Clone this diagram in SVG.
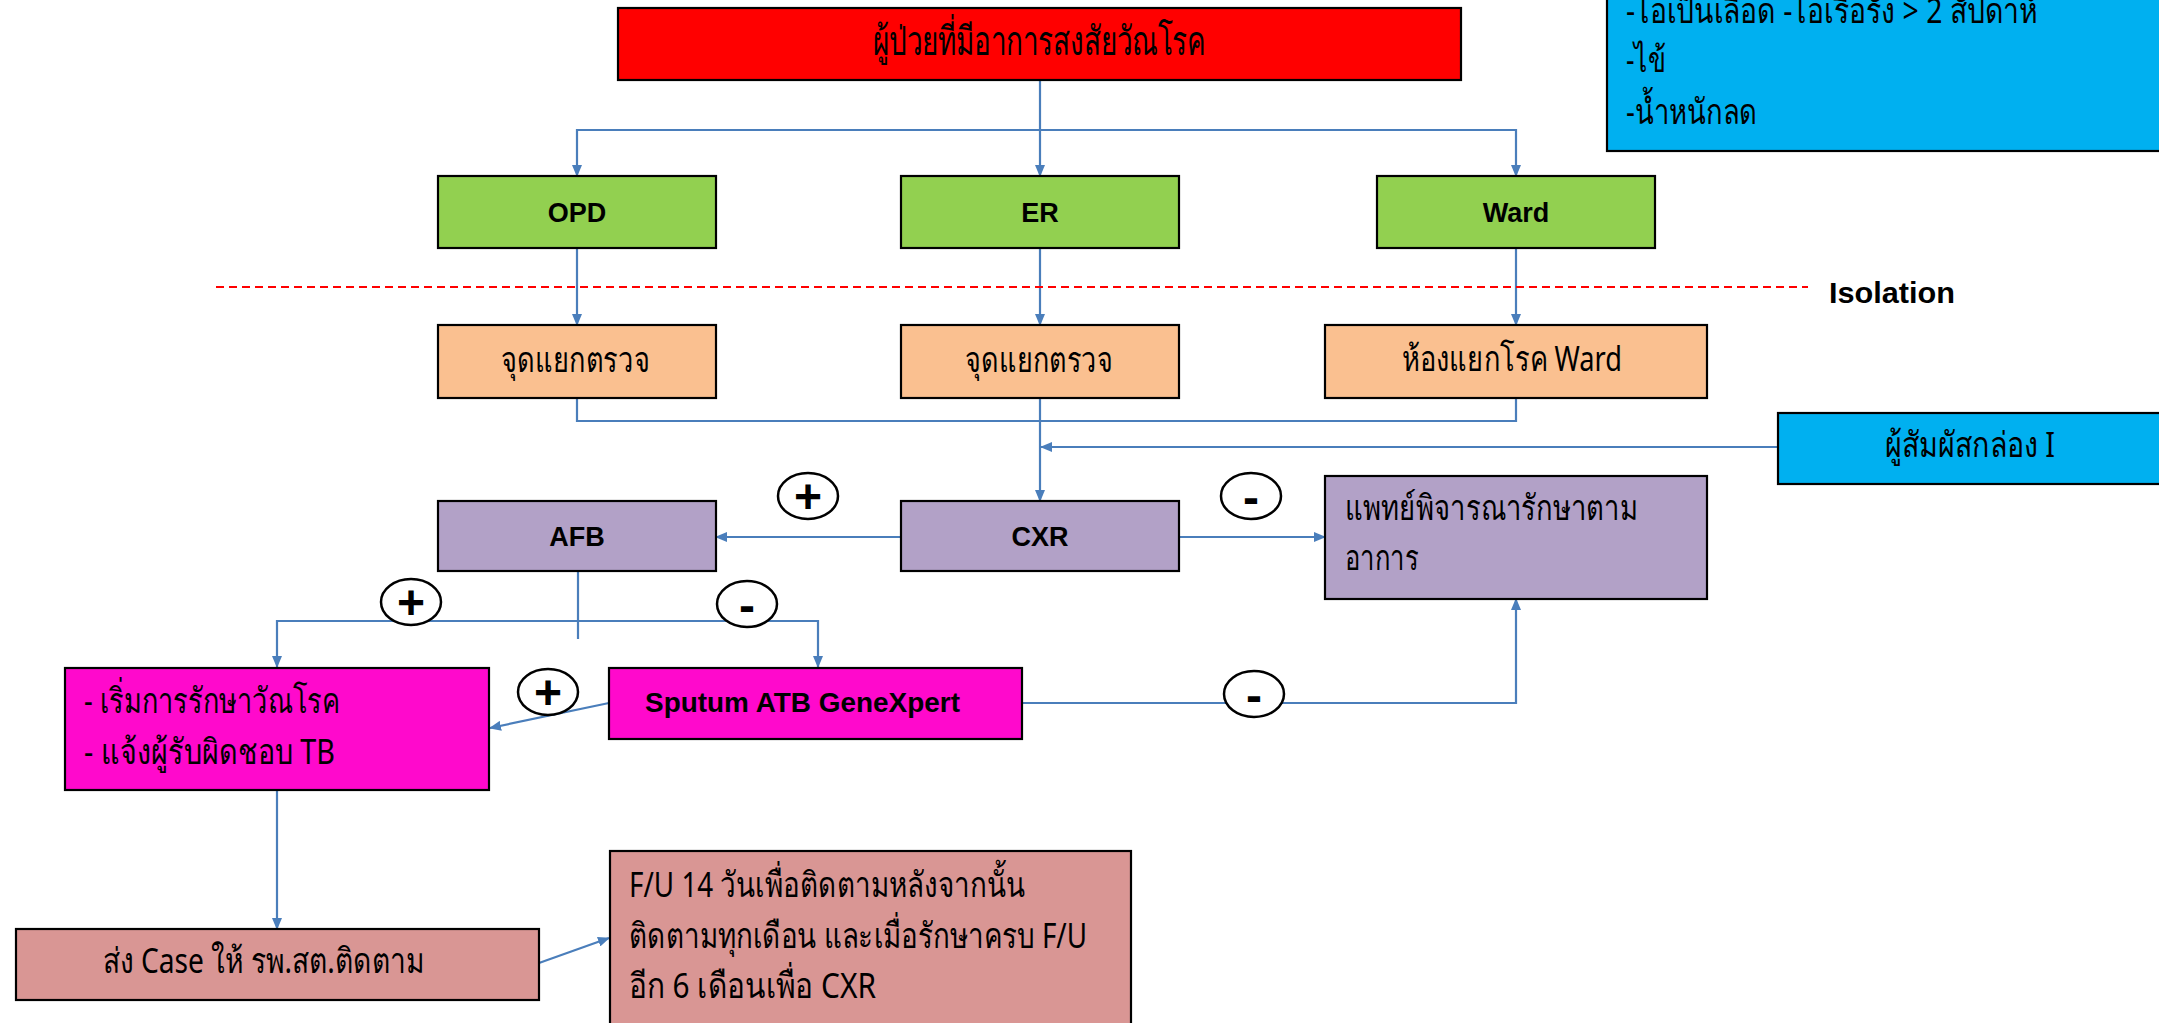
<svg xmlns="http://www.w3.org/2000/svg" width="2159" height="1023" viewBox="0 0 2159 1023">
<style>
.box{stroke:#000;stroke-width:2.2}
.th{font-family:"Noto Sans","DejaVu Sans","Liberation Sans",sans-serif;font-size:35px;fill:#000}
.lb{font-family:"Liberation Sans",Arial,sans-serif;font-weight:bold;font-size:27px;fill:#000;text-anchor:middle}
.cn{fill:none;stroke:#4A7EBB;stroke-width:2.2}
.sg{fill:#fff;stroke:#000;stroke-width:2.5}
.sgt{font-family:"Liberation Sans",Arial,sans-serif;font-weight:bold;font-size:48px;fill:#000;text-anchor:middle}
</style>
<defs>
<marker id="ah" markerWidth="12" markerHeight="10" refX="11" refY="5" orient="auto" markerUnits="userSpaceOnUse">
<path d="M0,0 L12,5 L0,10 Z" fill="#4A7EBB"/>
</marker>
</defs>
<rect width="2159" height="1023" fill="#fff"/>

<g id="connectors">
<path class="cn" d="M1040,80 V176" marker-end="url(#ah)"/>
<path class="cn" d="M1040,130 H577 V176" marker-end="url(#ah)"/>
<path class="cn" d="M1040,130 H1516 V176" marker-end="url(#ah)"/>
<path class="cn" d="M577,248 V325" marker-end="url(#ah)"/>
<path class="cn" d="M1040,248 V325" marker-end="url(#ah)"/>
<path class="cn" d="M1516,248 V325" marker-end="url(#ah)"/>
<path class="cn" d="M577,398 V421 H1516 V398"/>
<path class="cn" d="M1040,398 V501" marker-end="url(#ah)"/>
<path class="cn" d="M1778,447 H1041" marker-end="url(#ah)"/>
<path class="cn" d="M900,537 H716" marker-end="url(#ah)"/>
<path class="cn" d="M1179,537 H1325" marker-end="url(#ah)"/>
<path class="cn" d="M578,571 V639" stroke-width="1.5"/>
<path class="cn" d="M578,621 H277 V667" marker-end="url(#ah)"/>
<path class="cn" d="M578,621 H818 V667" marker-end="url(#ah)"/>
<path class="cn" d="M609,703 L490,728" marker-end="url(#ah)"/>
<path class="cn" d="M1022,703 H1516 V599" marker-end="url(#ah)"/>
<path class="cn" d="M277,790 V929" marker-end="url(#ah)"/>
<path class="cn" d="M539,963 L609,938" marker-end="url(#ah)"/>
<path d="M216,287 H1808" fill="none" stroke="#FF0000" stroke-width="2" stroke-dasharray="8 5"/>
</g>

<g id="n-suspect"><rect class="box" x="618" y="8" width="843" height="72" fill="#FF0000"/>
<text class="th" x="873" y="55" style="font-size:40px" textLength="333" lengthAdjust="spacingAndGlyphs">ผู้ป่วยที่มีอาการสงสัยวัณโรค</text></g>

<g id="n-symptoms"><rect class="box" x="1607" y="-10" width="560" height="161" fill="#00B0F0"/>
<text class="th" x="1626" y="23" textLength="412" lengthAdjust="spacingAndGlyphs">-ไอเป็นเลือด -ไอเรื้อรัง &gt; 2 สัปดาห์</text>
<text class="th" x="1626" y="72" textLength="40" lengthAdjust="spacingAndGlyphs">-ไข้</text>
<text class="th" x="1626" y="124" textLength="131" lengthAdjust="spacingAndGlyphs">-น้ำหนักลด</text></g>

<g id="n-opd"><rect class="box" x="438" y="176" width="278" height="72" fill="#92D050"/><text class="lb" x="577" y="222">OPD</text></g>
<g id="n-er"><rect class="box" x="901" y="176" width="278" height="72" fill="#92D050"/><text class="lb" x="1040" y="222">ER</text></g>
<g id="n-ward"><rect class="box" x="1377" y="176" width="278" height="72" fill="#92D050"/><text class="lb" x="1516" y="222">Ward</text></g>

<g id="isolation"><text class="lb" x="1829" y="303" style="font-size:30px;text-anchor:start" textLength="126" lengthAdjust="spacingAndGlyphs">Isolation</text></g>

<g id="n-screen1"><rect class="box" x="438" y="325" width="278" height="73" fill="#FAC090"/>
<text class="th" x="501" y="372" textLength="149" lengthAdjust="spacingAndGlyphs">จุดแยกตรวจ</text></g>
<g id="n-screen2"><rect class="box" x="901" y="325" width="278" height="73" fill="#FAC090"/>
<text class="th" x="965" y="372" textLength="148" lengthAdjust="spacingAndGlyphs">จุดแยกตรวจ</text></g>
<g id="n-isoroom"><rect class="box" x="1325" y="325" width="382" height="73" fill="#FAC090"/>
<text class="th" x="1402" y="371" textLength="220" lengthAdjust="spacingAndGlyphs">ห้องแยกโรค Ward</text></g>

<g id="n-contact"><rect class="box" x="1778" y="413" width="400" height="71" fill="#00B0F0"/>
<text class="th" x="1885" y="457" textLength="170" lengthAdjust="spacingAndGlyphs">ผู้สัมผัสกล่อง I</text></g>

<g id="n-afb"><rect class="box" x="438" y="501" width="278" height="70" fill="#B2A1C7"/><text class="lb" x="577" y="546">AFB</text></g>
<g id="n-cxr"><rect class="box" x="901" y="501" width="278" height="70" fill="#B2A1C7"/><text class="lb" x="1040" y="546">CXR</text></g>
<g id="n-symptomatic"><rect class="box" x="1325" y="476" width="382" height="123" fill="#B2A1C7"/>
<text class="th" x="1345" y="520" textLength="293" lengthAdjust="spacingAndGlyphs">แพทย์พิจารณารักษาตาม</text>
<text class="th" x="1345" y="570" textLength="74" lengthAdjust="spacingAndGlyphs">อาการ</text></g>

<g id="n-treat"><rect class="box" x="65" y="668" width="424" height="122" fill="#FF09CC"/>
<text class="th" x="84" y="713" textLength="256" lengthAdjust="spacingAndGlyphs">- เริ่มการรักษาวัณโรค</text>
<text class="th" x="84" y="764" textLength="251" lengthAdjust="spacingAndGlyphs">- แจ้งผู้รับผิดชอบ TB</text></g>

<g id="n-genexpert"><rect class="box" x="609" y="668" width="413" height="71" fill="#FF09CC"/>
<text class="lb" x="645" y="712" style="text-anchor:start" textLength="315" lengthAdjust="spacingAndGlyphs">Sputum ATB GeneXpert</text></g>

<g id="n-case"><rect class="box" x="16" y="929" width="523" height="71" fill="#D99694"/>
<text class="th" x="103" y="973" textLength="322" lengthAdjust="spacingAndGlyphs">ส่ง Case ให้ รพ.สต.ติดตาม</text></g>

<g id="n-followup"><rect class="box" x="610" y="851" width="521" height="190" fill="#D99694"/>
<text class="th" x="629" y="897" textLength="396" lengthAdjust="spacingAndGlyphs">F/U 14 วันเพื่อติดตามหลังจากนั้น</text>
<text class="th" x="629" y="948" textLength="458" lengthAdjust="spacingAndGlyphs">ติดตามทุกเดือน และเมื่อรักษาครบ F/U</text>
<text class="th" x="629" y="998" textLength="247" lengthAdjust="spacingAndGlyphs">อีก 6 เดือนเพื่อ CXR</text></g>

<g id="signs">
<ellipse class="sg" cx="808" cy="496" rx="30" ry="23"/><text class="sgt" x="808" y="513">+</text>
<ellipse class="sg" cx="1251" cy="496" rx="30" ry="23"/><text class="sgt" x="1251" y="514">-</text>
<ellipse class="sg" cx="411" cy="602" rx="30" ry="23"/><text class="sgt" x="411" y="619">+</text>
<ellipse class="sg" cx="747" cy="604" rx="30" ry="23"/><text class="sgt" x="747" y="622">-</text>
<ellipse class="sg" cx="548" cy="692" rx="30" ry="23"/><text class="sgt" x="548" y="709">+</text>
<ellipse class="sg" cx="1254" cy="694" rx="30" ry="23"/><text class="sgt" x="1254" y="712">-</text>
</g>
</svg>
